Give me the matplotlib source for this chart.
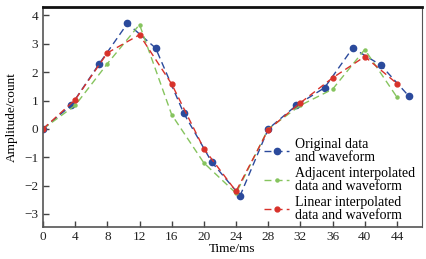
import matplotlib
matplotlib.use('Agg')
from matplotlib import pyplot as plt

plt.rcParams['font.family'] = ['Liberation Serif', 'DejaVu Serif']

# Original data and waveform
orig_t = [0, 3.5, 7, 10.5, 14, 17.5, 21, 24.5, 28, 31.5, 35, 38.5, 42, 45.5]
orig_y = [0, 0.83, 2.3, 3.72, 2.85, 0.55, -1.18, -2.36, 0, 0.83, 1.45, 2.85, 2.25, 1.15]

# Adjacent interpolated data and waveform
adj_t = [0, 4, 8, 12, 16, 20, 24, 28, 32, 36, 40, 44]
adj_y = [0, 0.83, 2.3, 3.68, 0.5, -1.2, -2.27, 0, 0.83, 1.4, 2.8, 1.12]

# Linear interpolated data and waveform
lin_t = [0, 4, 8, 12, 16, 20, 24, 28, 32, 36, 40, 44]
lin_y = [0, 1.03, 2.68, 3.32, 1.58, -0.7, -2.2, -0.03, 0.92, 1.8, 2.55, 1.6]

xticks = [0, 4, 8, 12, 16, 20, 24, 28, 32, 36, 40, 44]
yticks = [-3, -2, -1, 0, 1, 2, 3, 4]

fig = plt.figure(figsize=(4.27, 2.59), dpi=100)
ax = fig.add_axes([0.1007, 0.1236, 0.8873, 0.8494])

ax.plot(orig_t, orig_y, color='#2b4a9c', linestyle=(0, (5, 3)), linewidth=1.0,
        marker='o', markersize=4.5, label='Original data\nand waveform')
ax.plot(adj_t, adj_y, color='#86c45e', linestyle=(0, (5, 3)), linewidth=1.0,
        marker='o', markersize=2.2, label='Adjacent interpolated\ndata and waveform')
ax.plot(lin_t, lin_y, color='#d8322b', linestyle=(0, (5, 3)), linewidth=1.0,
        marker='o', markersize=3.5, label='Linear interpolated\ndata and waveform')

ax.set_xlim(0, 47.1)
ax.set_ylim(-3.46, 4.3)
ax.set_xticks(xticks)
ax.set_yticks(yticks)
ax.tick_params(direction='in', length=4, width=1, colors='#444444', labelsize=9.5,
               labelcolor='#222222')
ax.tick_params(axis='x', pad=3)

for side in ['left', 'bottom', 'right']:
    ax.spines[side].set_color('#555555')
    ax.spines[side].set_linewidth(1.2)
ax.spines['right'].set_linewidth(0.8)
ax.spines['top'].set_color('#111111')
ax.spines['top'].set_linewidth(2.0)

ax.set_xlabel('Time/ms', fontsize=9.5, labelpad=0)
ax.set_ylabel('Amplitude/count', fontsize=9.5, labelpad=4)

leg = ax.legend(loc='lower right', bbox_to_anchor=(1.0, -0.01), frameon=False,
                fontsize=10, handlelength=1.8, handletextpad=0.4,
                labelspacing=0.22, borderaxespad=0.1)
for t in leg.get_texts():
    t.set_linespacing(1.0)

fig.savefig('out.png', dpi=100)
